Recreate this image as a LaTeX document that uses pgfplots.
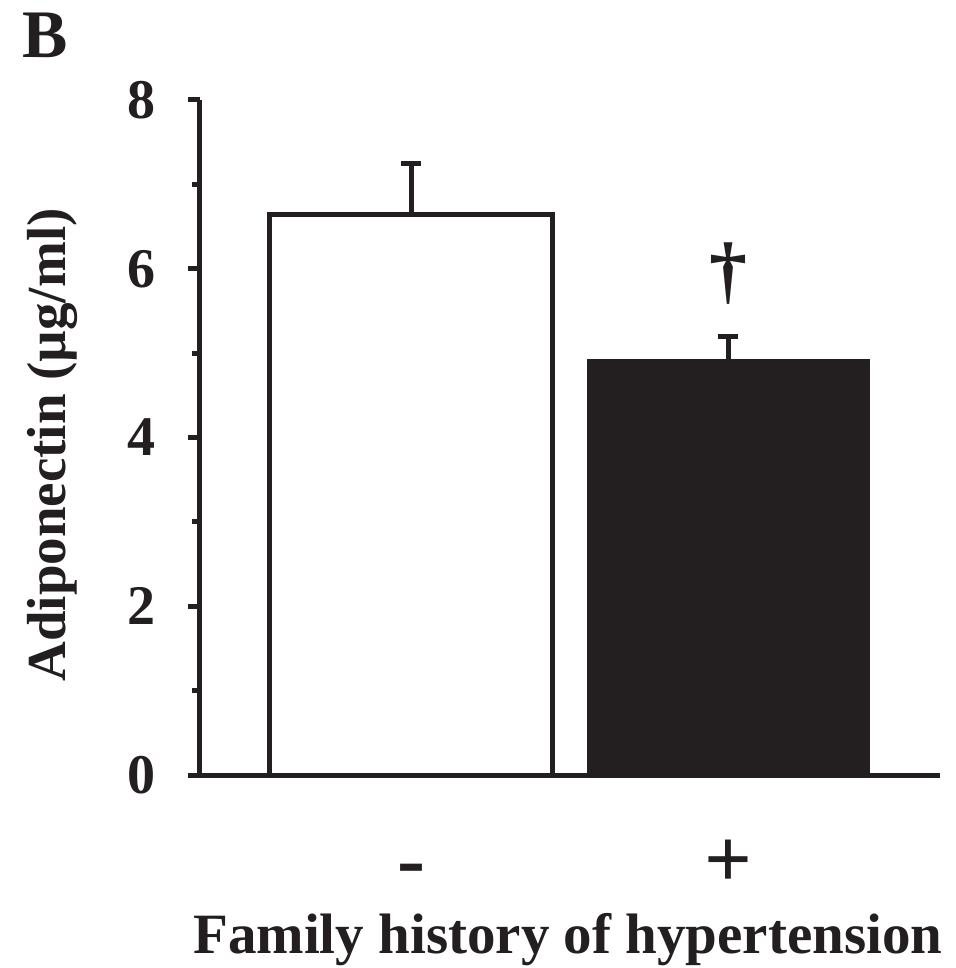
\documentclass[border=0pt]{standalone}
\usepackage{fontspec}
\setmainfont{Liberation Serif}
\usepackage{pgfplots}
\pgfplotsset{compat=1.18}
\usetikzlibrary{calc}
\definecolor{ink}{HTML}{231F20}
\begin{document}
\begin{tikzpicture}
\begin{axis}[name=ax,
  scale only axis, width=370pt, height=337.5pt,
  xmin=200, xmax=940, ymin=0, ymax=8,
  axis lines=left,
  axis line style={-, line width=2.5pt, color=ink},
  ytick={0,2,4,6,8}, minor ytick={1,3,5,7},
  tick align=outside, major tick length=6pt, minor tick length=4pt,
  tick style={line width=2.5pt, color=ink},
  xtick={411,728}, xticklabels={-,+},
  xtick style={draw=none},
  /pgf/number format/assume math mode=true,
  yticklabel style={font=\fontsize{28pt}{30pt}\selectfont\bfseries, color=ink, xshift=-12.5pt},
  xticklabel style={font=\fontsize{42pt}{44pt}\selectfont\bfseries, color=ink, anchor=base, yshift=-50pt},
  xlabel={Family history of hypertension},
  xlabel style={font=\fontsize{28.5pt}{30pt}\selectfont\bfseries, color=ink, at={(axis description cs:0.497,0)}, anchor=center, yshift=-82.5pt},
  ylabel={Adiponectin (µg/ml)},
  ylabel style={font=\fontsize{27.5pt}{30pt}\selectfont\bfseries, color=ink, at={(axis description cs:-0.2,0.489)}, anchor=center},
  clip=false,
]
\addplot[ybar, bar shift=0pt, bar width=282, draw=ink, fill=white, line width=2.5pt,
  error bars/.cd, y dir=plus, y explicit,
  error bar style={line width=2.5pt, color=ink},
  error mark options={line width=2.5pt, mark size=5pt, color=ink, rotate=90}]
  coordinates {(411,6.64) +- (0,0.61)};
\addplot[ybar, bar shift=0pt, bar width=278, draw=ink, fill=ink, line width=2.5pt,
  error bars/.cd, y dir=plus, y explicit,
  error bar style={line width=2.5pt, color=ink},
  error mark options={line width=2.5pt, mark size=5pt, color=ink, rotate=90}]
  coordinates {(728,4.90) +- (0,0.30)};
\node[font=\fontsize{38pt}{40pt}\selectfont\bfseries, color=ink] at (axis cs:728,5.94) {\textdagger};
\end{axis}
\node[font=\fontsize{34pt}{36pt}\selectfont\bfseries, color=ink] at ($(ax.south west)+(-77.5pt,370pt)$) {B};
\pgfresetboundingbox
\path[use as bounding box] ($(ax.south west)+(-100pt,-96.5pt)$) rectangle ($(ax.south west)+(378pt,387.5pt)$);
\end{tikzpicture}
\end{document}
